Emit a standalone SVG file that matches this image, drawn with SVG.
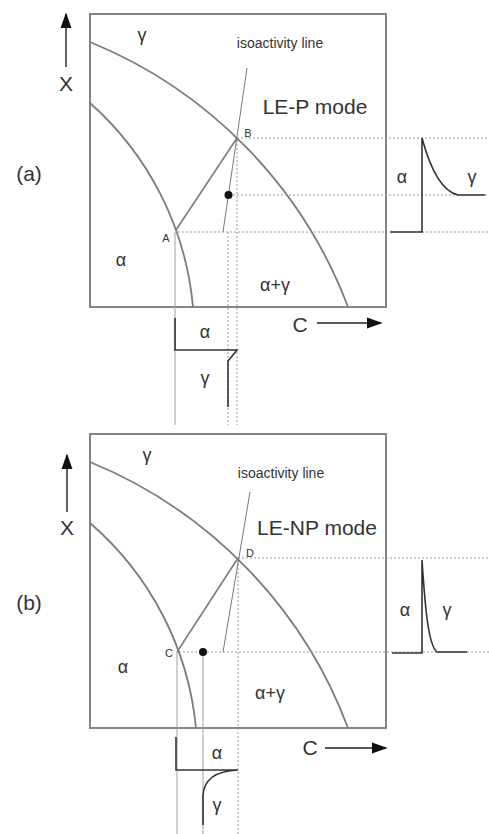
<svg xmlns="http://www.w3.org/2000/svg" width="489" height="834" viewBox="0 0 489 834">
<defs>
<marker id="ah" viewBox="0 0 10 10" refX="9" refY="5" markerWidth="12" markerHeight="12" markerUnits="userSpaceOnUse" orient="auto">
<path d="M0,1 L10,5 L0,9 Z" fill="#111"/>
</marker>
<marker id="ahb" viewBox="0 0 10 10" refX="9" refY="5" markerWidth="16" markerHeight="16" markerUnits="userSpaceOnUse" orient="auto">
<path d="M0,1.5 L10,5 L0,8.5 Z" fill="#111"/>
</marker>
</defs>
<style>
.box{fill:none;stroke:#858585;stroke-width:2}
.curve{fill:none;stroke:#7c7c7c;stroke-width:1.8}
.tie{fill:none;stroke:#7c7c7c;stroke-width:1.6}
.iso{fill:none;stroke:#777;stroke-width:1}
.dot{fill:none;stroke:#9a9a9a;stroke-width:1;stroke-dasharray:2,2}
.thin{fill:none;stroke:#a0a0a0;stroke-width:1}
.prof{fill:none;stroke:#333;stroke-width:1.6}
.ax{fill:none;stroke:#222;stroke-width:1.4}
text{font-family:"Liberation Sans",Arial,sans-serif;fill:#333}
.big{font-size:21px}
.lab{font-size:18px}
.pt{font-size:11px}
.iso-t{font-size:14px}
.mode{font-size:21px}
</style>
<rect width="489" height="834" fill="#fff"/>

<g id="panel-a">
<rect class="box" x="90" y="14" width="296" height="293"/>
<path class="curve" d="M90,42 A463,463 0 0 1 348,307"/>
<path class="curve" d="M90,103 A310,310 0 0 1 193,307"/>
<text class="iso-t" x="280" y="48" text-anchor="middle">isoactivity line</text>
<text class="mode" x="315" y="114" text-anchor="middle">LE-P mode</text>
<text class="lab" x="142" y="41" text-anchor="middle">γ</text>
<text class="lab" x="121" y="266" text-anchor="middle">α</text>
<text class="lab" x="275" y="291" text-anchor="middle">α+γ</text>
<text class="pt" x="248" y="137" text-anchor="middle">B</text>
<text class="pt" x="166" y="242" text-anchor="middle">A</text>
<text class="big" x="29" y="181" text-anchor="middle">(a)</text>
<text class="big" x="66" y="91" text-anchor="middle">X</text>
<text class="big" x="300" y="332" text-anchor="middle">C</text>
<line class="ax" x1="66" y1="67" x2="66" y2="14" marker-end="url(#ahb)"/>
<line class="ax" x1="317" y1="323" x2="381" y2="323" marker-end="url(#ahb)"/>
</g>

<g id="connectors-a">
<line class="dot" x1="237" y1="138" x2="489" y2="138"/>
<line class="dot" x1="229" y1="195" x2="489" y2="195"/>
<line class="dot" x1="178" y1="232" x2="489" y2="232"/>
<line class="dot" x1="237" y1="140" x2="237" y2="425"/>
<line class="dot" x1="228" y1="232" x2="228" y2="425"/>
<line class="thin" x1="175" y1="232" x2="175" y2="425"/>
<line class="tie" x1="176" y1="230" x2="237" y2="138"/>
<line class="iso" x1="247" y1="68" x2="223" y2="232"/>
<circle cx="228.5" cy="195" r="4" fill="#111"/>
</g>

<g id="profile-a-right">
<path class="prof" d="M390,232 H422 V138 Q436,190 458,195 H485"/>
<text class="lab" x="402" y="183" text-anchor="middle">α</text>
<text class="lab" x="472" y="183" text-anchor="middle">γ</text>
</g>

<g id="profile-a-bottom">
<path class="prof" d="M175,318 V350 H237 L228,361 V407"/>
<text class="lab" x="205" y="338" text-anchor="middle">α</text>
<text class="lab" x="205" y="384" text-anchor="middle">γ</text>
</g>

<g id="panel-b">
<rect class="box" x="90" y="434" width="296" height="294"/>
<path class="curve" d="M90,462 A463,463 0 0 1 348,728"/>
<path class="curve" d="M90,523 A310,310 0 0 1 196,728"/>
<text class="iso-t" x="281" y="478" text-anchor="middle">isoactivity line</text>
<text class="mode" x="317" y="535" text-anchor="middle">LE-NP mode</text>
<text class="lab" x="147" y="461" text-anchor="middle">γ</text>
<text class="lab" x="123" y="673" text-anchor="middle">α</text>
<text class="lab" x="270" y="699" text-anchor="middle">α+γ</text>
<text class="pt" x="250" y="557" text-anchor="middle">D</text>
<text class="pt" x="169" y="657" text-anchor="middle">C</text>
<text class="big" x="29" y="610" text-anchor="middle">(b)</text>
<text class="big" x="67" y="535" text-anchor="middle">X</text>
<text class="big" x="310" y="755" text-anchor="middle">C</text>
<line class="ax" x1="67" y1="512" x2="67" y2="455" marker-end="url(#ahb)"/>
<line class="ax" x1="325" y1="748" x2="386" y2="748" marker-end="url(#ahb)"/>
</g>

<g id="connectors-b">
<line class="dot" x1="238" y1="558" x2="489" y2="558"/>
<line class="dot" x1="179" y1="652" x2="489" y2="652"/>
<line class="dot" x1="238" y1="560" x2="238" y2="834"/>
<line class="thin" x1="203" y1="652" x2="203" y2="834"/>
<line class="thin" x1="177" y1="652" x2="177" y2="834"/>
<line class="tie" x1="177" y1="652" x2="238" y2="558"/>
<line class="iso" x1="250" y1="492" x2="223" y2="652"/>
<circle cx="203" cy="652" r="4" fill="#111"/>
</g>

<g id="profile-b-right">
<path class="prof" d="M392,653 H422 V560 C425,605 428,645 437,652 H467"/>
<text class="lab" x="405" y="616" text-anchor="middle">α</text>
<text class="lab" x="447" y="616" text-anchor="middle">γ</text>
</g>

<g id="profile-b-bottom">
<path class="prof" d="M176,737 V770 H238 C215,771 204,780 203,795 V825"/>
<text class="lab" x="217" y="759" text-anchor="middle">α</text>
<text class="lab" x="217" y="811" text-anchor="middle">γ</text>
</g>
</svg>
